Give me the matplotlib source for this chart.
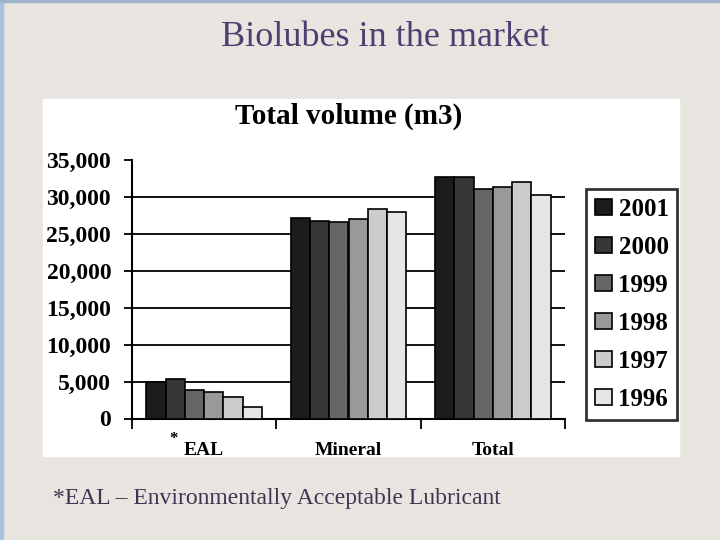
import numpy as np
import matplotlib
matplotlib.use('Agg')
import matplotlib.pyplot as plt
from matplotlib.patches import Rectangle

# data
categories = ["EAL", "Mineral", "Total"]
years = ["2001", "2000", "1999", "1998", "1997", "1996"]
volumes = {
    "2001": [5000, 27100, 32600],
    "2000": [5300, 26700, 32600],
    "1999": [3900, 26500, 31050],
    "1998": [3550, 27000, 31350],
    "1997": [2850, 28350, 32000],
    "1996": [1500, 27950, 30250],
}
yticks = [0, 5000, 10000, 15000, 20000, 25000, 30000, 35000]
colors = ["#1c1c1c", "#363636", "#666666", "#999999", "#cccccc", "#e6e6e6"]

plt.rcParams['font.family'] = ['Liberation Serif', 'DejaVu Serif']

W, H = 720, 540
fig = plt.figure(figsize=(7.2, 5.4), dpi=100, facecolor="#e8e5e0")

# slide frame + white chart panel
fig.patches.append(Rectangle((0, 0), 3 / W, 1, transform=fig.transFigure,
                             color="#a9c3de", zorder=0))
fig.patches.append(Rectangle((0, 1 - 2 / H), 1, 2 / H, transform=fig.transFigure,
                             color="#9fb4cc", zorder=0))
fig.patches.append(Rectangle((43 / W, 1 - 456 / H), 636 / W, 357 / H,
                             transform=fig.transFigure, color="white", zorder=1))

fig.text(385 / W, 1 - 46 / H, "Biolubes in the market", ha="center",
         va="baseline", fontsize=26, color="#4b4070")
fig.text(53 / W, 1 - 504 / H, "*EAL \u2013 Environmentally Acceptable Lubricant",
         ha="left", va="baseline", fontsize=17, color="#3e3652")

ax = fig.add_axes([132 / W, 1 - 418.5 / H, 433 / W, 259 / H])
ax.set_facecolor("none")
ax.set_zorder(2)

x = np.arange(len(categories))
n = len(years)
bw = 0.8 / n
for i, yr in enumerate(years):
    ax.bar(x - 0.4 + bw * (i + 0.5), volumes[yr], width=bw, color=colors[i],
           edgecolor="black", linewidth=1.2, label=yr, zorder=3)

ax.set_xlim(-0.5, len(categories) - 0.5)
ax.set_ylim(0, 35000)
ax.set_yticks(yticks)
ax.set_yticklabels([f"{v:,}" for v in yticks], fontsize=17, fontweight="bold")
for v in yticks[1:-1]:
    ax.axhline(v, color="black", linewidth=1.3, zorder=1)

ax.set_xticks(x)
ax.set_xticklabels(["EAL", "Mineral", "Total"], fontsize=14, fontweight="bold")
ax.set_xticks(np.arange(len(categories) + 1) - 0.5, minor=True)
ax.tick_params(axis="x", which="major", length=0, pad=17)
ax.tick_params(axis="x", which="minor", length=7, width=1.3, direction="out")
ax.tick_params(axis="y", length=6, width=1.3, direction="out", pad=9)
ax.text(-0.21, -0.08, "*", transform=ax.get_xaxis_transform(), ha="center",
        va="center", fontsize=12, fontweight="bold")

for s in ["top", "right"]:
    ax.spines[s].set_visible(False)
for s in ["left", "bottom"]:
    ax.spines[s].set_linewidth(1.5)

ax.set_title("Total volume (m3)", fontsize=21, fontweight="bold", pad=26)

leg = ax.legend(loc="upper left", bbox_to_anchor=(586 / W, 1 - 189 / H),
                bbox_transform=fig.transFigure, prop={"size": 18, "weight": "bold"},
                frameon=True, fancybox=False, handlelength=0.7, handleheight=0.6,
                handletextpad=0.25, labelspacing=0.6, borderpad=0.35,
                borderaxespad=0)
leg.get_frame().set_edgecolor("black")
leg.get_frame().set_linewidth(2)

fig.savefig("out.png", dpi=100, facecolor=fig.get_facecolor())
